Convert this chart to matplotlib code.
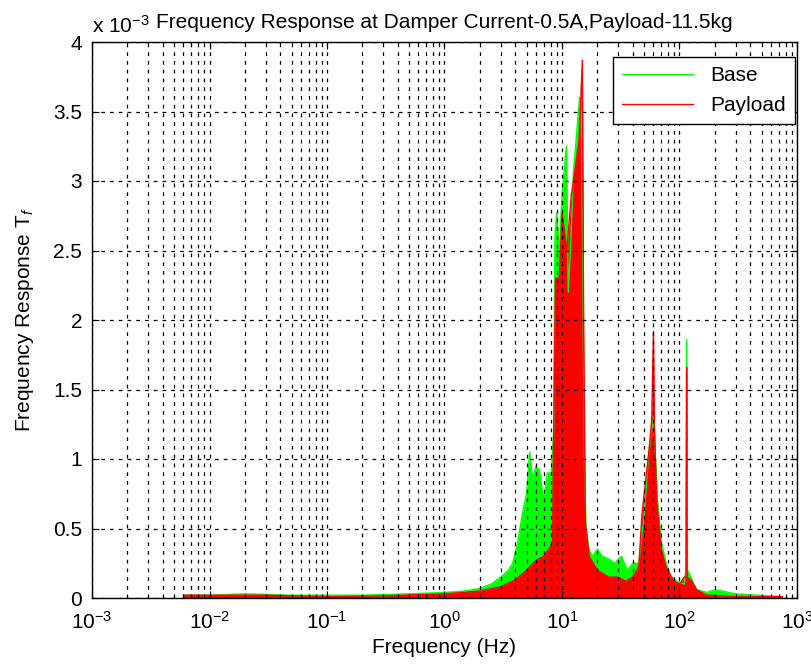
import numpy as np
import matplotlib
matplotlib.use('Agg')
import matplotlib.pyplot as plt
from matplotlib.ticker import LogLocator, FixedLocator, FormatStrFormatter

plt.rcParams['font.family'] = ['Liberation Sans', 'DejaVu Sans']
plt.rcParams['mathtext.fontset'] = 'custom'
plt.rcParams['mathtext.rm'] = 'Liberation Sans'
plt.rcParams['mathtext.it'] = 'Liberation Sans:italic'

# spectrum envelopes, amplitude in units of 1e-3
base_freq = [0.006, 0.01, 0.02, 0.05, 0.1, 0.2, 0.5, 1.0, 1.5, 2.0, 2.5, 3.0, 3.5, 3.8,
             4.2, 4.6, 5.0, 5.3, 5.6, 6.0, 6.4, 7.0, 7.5, 8.1, 8.5, 8.7, 9.0, 9.5, 10.0,
             10.9, 11.3, 11.8, 12.5, 13.5, 14.1, 14.6, 15.5, 16.0, 17.0, 18.0, 20.0, 22.0,
             25.0, 28.0, 32.0, 36.0, 40.0, 45.0, 50.0, 55.0, 60.0, 65.0, 70.0, 77.0, 85.0,
             95.0, 110.0, 113.0, 115.0, 117.0, 125.0, 140.0, 170.0, 200.0, 300.0, 700.0]
base_amp = [0.02, 0.02, 0.03, 0.02, 0.02, 0.02, 0.03, 0.04, 0.05, 0.07, 0.10, 0.15, 0.20, 0.25,
            0.40, 0.61, 0.75, 1.05, 0.85, 0.95, 0.92, 0.70, 0.90, 0.90, 1.20, 2.60, 2.77, 2.50, 2.90,
            3.25, 2.20, 2.50, 3.06, 3.40, 3.60, 3.60, 1.00, 0.50, 0.35, 0.30, 0.35, 0.30,
            0.28, 0.25, 0.30, 0.20, 0.25, 0.25, 0.60, 1.06, 1.30, 0.70, 0.40, 0.25, 0.15,
            0.12, 0.10, 0.20, 1.86, 0.20, 0.15, 0.06, 0.04, 0.06, 0.03, 0.01]

payload_freq = [0.006, 0.01, 0.03, 0.1, 0.3, 1.0, 2.0, 3.0, 4.0, 5.0, 6.0, 7.0, 8.0, 8.3,
                8.5, 8.8, 9.5, 10.0, 11.0, 12.0, 13.0, 14.0, 14.9, 15.3, 15.8, 17.0, 20.0,
                25.0, 30.0, 35.0, 40.0, 45.0, 48.0, 55.0, 58.0, 60.0, 61.0, 64.0, 70.0, 77.0,
                90.0, 100.0, 110.0, 114.0, 115.0, 116.0, 125.0, 140.0, 170.0, 300.0, 750.0]
payload_amp = [0.02, 0.02, 0.02, 0.01, 0.015, 0.03, 0.05, 0.08, 0.13, 0.20, 0.27, 0.30, 0.37, 0.40,
               1.20, 2.30, 2.30, 2.77, 2.50, 2.90, 3.10, 3.30, 3.87, 1.90, 0.55, 0.30, 0.20,
               0.15, 0.15, 0.12, 0.15, 0.22, 0.61, 1.06, 1.28, 1.92, 1.26, 0.70, 0.35, 0.22,
               0.12, 0.10, 0.15, 0.15, 1.66, 0.15, 0.13, 0.06, 0.02, 0.01, 0.01]

fig = plt.figure(figsize=(8.12, 6.67), dpi=100)
ax = fig.add_axes([92 / 812, 69 / 667, 705 / 812, 556 / 667])

ax.fill_between(base_freq, 0, base_amp, color='#00ff00', linewidth=0)
ax.plot(base_freq, base_amp, color='#00ff00', linewidth=1, label='Base')
ax.fill_between(payload_freq, 0, payload_amp, color='#ff0000', linewidth=0)
ax.plot(payload_freq, payload_amp, color='#ff0000', linewidth=1, label='Payload')

ax.set_xscale('log')
ax.set_xlim(1e-3, 1e3)
ax.set_ylim(0, 4)
ax.xaxis.set_major_locator(LogLocator(base=10, numticks=10))
ax.xaxis.set_minor_locator(LogLocator(base=10, subs=np.arange(2, 10), numticks=100))
ax.yaxis.set_major_locator(FixedLocator(np.arange(0, 4.01, 0.5)))
ax.yaxis.set_major_formatter(FormatStrFormatter('%g'))

ax.tick_params(which='both', direction='in', top=True, right=True, labelsize=15)
ax.tick_params(which='major', length=5)
ax.tick_params(which='minor', length=3)
ax.tick_params(axis='x', which='major', pad=9)
ax.tick_params(axis='y', which='major', pad=7)

grid_style = dict(color='black', linestyle=(0, (3, 4)), linewidth=0.9)
ax.grid(True, which='major', **grid_style)
ax.grid(True, which='minor', axis='x', **grid_style)
ax.set_axisbelow(False)
for s in ax.spines.values():
    s.set_linewidth(1.0)

ax.set_xlabel('Frequency (Hz)', fontsize=15, labelpad=4)
ax.set_ylabel('Frequency Response T$_f$', fontsize=15, labelpad=12)
ax.set_title('Frequency Response at Damper Current-0.5A,Payload-11.5kg', fontsize=15, pad=10)
ax.text(0, 1.01, r'x 10$^{-3}$', transform=ax.transAxes, fontsize=15, va='bottom', ha='left')

leg = ax.legend(loc='upper right', bbox_to_anchor=(0.997, 0.973), borderaxespad=0,
                fontsize=15, fancybox=False, framealpha=1, edgecolor='black',
                handlelength=3.4, borderpad=0.45, labelspacing=0.5)
leg.get_frame().set_linewidth(1.0)

fig.savefig('out.png', dpi=100)
